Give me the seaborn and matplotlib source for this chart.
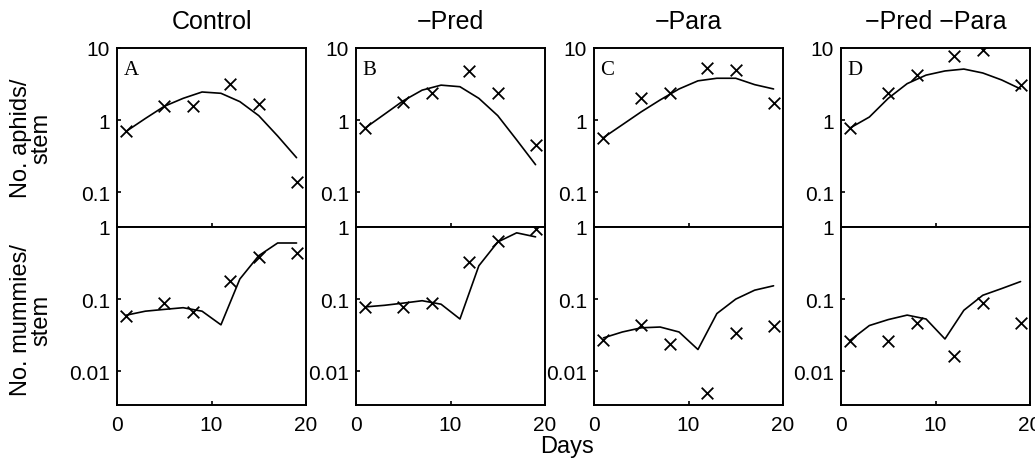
import matplotlib
matplotlib.use("Agg")
import matplotlib.pyplot as plt
import seaborn as sns
import numpy as np

sns.set_theme(style="ticks")
plt.rcParams['font.family'] = ['Liberation Sans', 'DejaVu Sans']

# ---------------- data ----------------
titles = ["Control", "\u2212Pred", "\u2212Para", "\u2212Pred \u2212Para"]
letters = ["A", "B", "C", "D"]
days_obs = [1, 5, 8, 12, 15, 19]
days_model = [1, 3, 5, 7, 9, 11, 13, 15, 17, 19]

aphids_obs_A = [0.70, 1.55, 1.55, 3.2, 1.67, 0.138]
aphids_obs_B = [0.77, 1.8, 2.35, 4.8, 2.35, 0.45]
aphids_obs_C = [0.56, 2.0, 2.35, 5.2, 4.9, 1.7]
aphids_obs_D = [0.77, 2.35, 4.2, 7.8, 9.4, 3.06]

aphids_mod_A = [0.70, 1.05, 1.55, 2.0, 2.45, 2.35, 1.8, 1.15, 0.60, 0.30]
aphids_mod_B = [0.78, 1.2, 1.85, 2.6, 3.05, 2.9, 2.0, 1.15, 0.53, 0.24]
aphids_mod_C = [0.57, 0.86, 1.3, 1.9, 2.7, 3.5, 3.8, 3.8, 3.1, 2.7]
aphids_mod_D = [0.78, 1.1, 2.0, 3.2, 4.2, 4.8, 5.1, 4.5, 3.6, 2.7]

mummies_obs_A = [0.059, 0.087, 0.067, 0.18, 0.38, 0.43]
mummies_obs_B = [0.077, 0.078, 0.088, 0.33, 0.63, 0.94]
mummies_obs_C = [0.027, 0.044, 0.024, 0.005, 0.034, 0.043]
mummies_obs_D = [0.026, 0.026, 0.046, 0.016, 0.088, 0.046]

mummies_mod_A = [0.060, 0.068, 0.072, 0.076, 0.068, 0.044, 0.19, 0.40, 0.60, 0.60]
mummies_mod_B = [0.078, 0.082, 0.088, 0.095, 0.085, 0.053, 0.29, 0.62, 0.83, 0.73]
mummies_mod_C = [0.029, 0.035, 0.040, 0.041, 0.035, 0.020, 0.063, 0.10, 0.133, 0.153]
mummies_mod_D = [0.027, 0.043, 0.052, 0.060, 0.053, 0.028, 0.070, 0.113, 0.14, 0.175]

aphids_obs = [aphids_obs_A, aphids_obs_B, aphids_obs_C, aphids_obs_D]
aphids_mod = [aphids_mod_A, aphids_mod_B, aphids_mod_C, aphids_mod_D]
mummies_obs = [mummies_obs_A, mummies_obs_B, mummies_obs_C, mummies_obs_D]
mummies_mod = [mummies_mod_A, mummies_mod_B, mummies_mod_C, mummies_mod_D]

top_ticks = [0.1, 1, 10]
top_ticklabels = ["0.1", "1", "10"]
bot_ticks = [0.01, 0.1, 1]
bot_ticklabels = ["0.01", "0.1", "1"]
x_ticks = [0, 10, 20]

# ---------------- figure ----------------
W, H = 1035, 460
fig = plt.figure(figsize=(W / 100, H / 100), dpi=100)

lefts = [117, 356, 594, 841]
pw = 189
top_y0, top_y1 = 49, 228
bot_y0, bot_y1 = 228, 406


def style_ax(ax, ticks, labels, xlabels):
    ax.set_yscale("log")
    ax.set_xlim(0, 20)
    ax.set_xticks(x_ticks)
    ax.set_yticks(ticks)
    ax.set_yticklabels(labels)
    ax.yaxis.set_minor_locator(matplotlib.ticker.NullLocator())
    ax.tick_params(axis="both", direction="in", length=3, width=1.2,
                   labelsize=15, colors="black", pad=5)
    ax.tick_params(axis="x", pad=7)
    if not xlabels:
        ax.set_xticklabels([])
    for s in ax.spines.values():
        s.set_linewidth(1.4)
        s.set_color("black")
    ax.set_xlabel("")
    ax.set_ylabel("")
    ax.set_facecolor("white")


for i in range(4):
    l = lefts[i]
    ax_t = fig.add_axes([l / W, (H - top_y1) / H, pw / W, (top_y1 - top_y0) / H])
    ax_b = fig.add_axes([l / W, (H - bot_y1) / H, pw / W, (bot_y1 - bot_y0) / H])

    sns.lineplot(x=days_model, y=aphids_mod[i], ax=ax_t, color="black", linewidth=1.2)
    sns.scatterplot(x=days_obs, y=aphids_obs[i], ax=ax_t, marker="x", color="black",
                    s=70, linewidth=1.3, zorder=3)
    style_ax(ax_t, top_ticks, top_ticklabels, False)
    ax_t.set_ylim(0.0327, 10)

    sns.lineplot(x=days_model, y=mummies_mod[i], ax=ax_b, color="black", linewidth=1.2)
    sns.scatterplot(x=days_obs, y=mummies_obs[i], ax=ax_b, marker="x", color="black",
                    s=70, linewidth=1.3, zorder=3)
    style_ax(ax_b, bot_ticks, bot_ticklabels, True)
    ax_b.set_ylim(0.0034, 1)

    ax_t.text(0.035, 0.935, letters[i], transform=ax_t.transAxes, ha="left", va="top",
              fontsize=15, family=["Liberation Serif", "DejaVu Serif"], color="black")
    fig.text((l + pw / 2) / W, (H - 22) / H, titles[i], ha="center", va="center",
             fontsize=18, color="black")

fig.text(31 / W, (H - 138) / H, "No. aphids/\nstem", rotation=90, ha="center",
         va="center", multialignment="center", fontsize=17, linespacing=0.9, color="black")
fig.text(31 / W, (H - 320) / H, "No. mummies/\nstem", rotation=90, ha="center",
         va="center", multialignment="center", fontsize=17, linespacing=0.9, color="black")
fig.text(567 / W, (H - 447) / H, "Days", ha="center", va="center", fontsize=17,
         color="black")

fig.savefig("out.png", dpi=100, facecolor="white")
